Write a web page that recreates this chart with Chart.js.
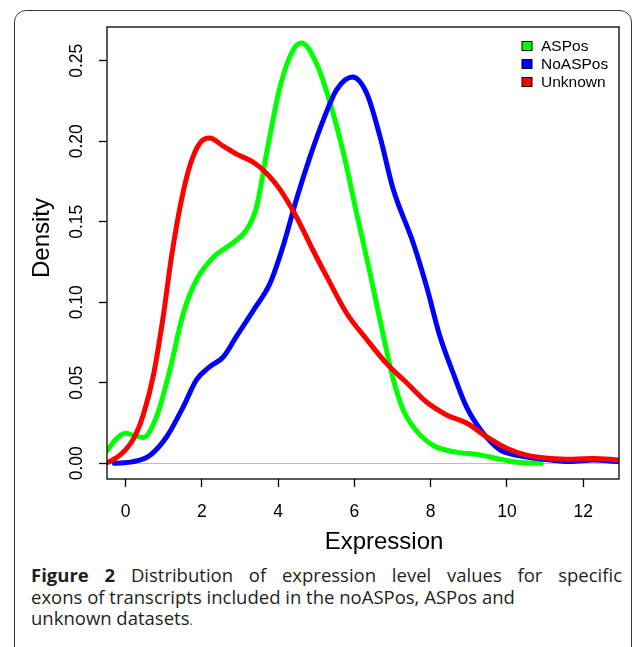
<!DOCTYPE html>
<html>
<head>
<meta charset="utf-8">
<script src="https://cdn.jsdelivr.net/npm/chart.js@4.4.1/dist/chart.umd.min.js"></script>
<style>
    html, body { margin: 0; padding: 0; background: #fff; }
    body { width: 633px; height: 647px; position: relative; overflow: hidden; }
    #frame {
        position: absolute; left: 14px; top: 10px; width: 616px; height: 700px;
        border: 1.5px solid #3a3a3a; border-radius: 12px;
    }
    #plot { position: absolute; left: 0; top: 0; }
    #caption {
        position: absolute; left: 31px; top: 564px; width: 591px;
        font-family: "Open Sans", sans-serif; font-size: 18.5px; line-height: 21.5px;
        color: #231f20;
    }
    #caption .l1 { text-align: justify; text-align-last: justify; }
    #caption .dot { font-size: 12px; }
</style>
</head>
<body>
<div id="frame"></div>
<canvas id="plot" width="633" height="560"></canvas>
<div id="caption">
    <div class="l1"><b>Figure 2</b> Distribution of expression level values for specific</div>
    <div>exons of transcripts included in the noASPos, ASPos and</div>
    <div>unknown datasets<span class="dot">.</span></div>
</div>
<script>
const xTicks = [0, 2, 4, 6, 8, 10, 12];
const yTicks = [0, 0.05, 0.10, 0.15, 0.20, 0.25];

const asposX = [-0.48, -0.25, 0.0, 0.25, 0.46, 0.81, 1.16, 1.51, 1.86, 2.30, 2.82, 3.17, 3.43, 3.70, 4.05, 4.40, 4.62, 5.01, 5.36, 5.71, 6.06, 6.41, 6.76, 7.02, 7.28, 7.63, 8.07, 8.59, 9.29, 9.82, 10.34, 10.9];
const asposY = [0.008, 0.015, 0.0186, 0.017, 0.016, 0.029, 0.058, 0.093, 0.114, 0.128, 0.137, 0.145, 0.159, 0.193, 0.234, 0.257, 0.261, 0.248, 0.224, 0.193, 0.155, 0.118, 0.079, 0.052, 0.033, 0.020, 0.011, 0.0072, 0.0052, 0.0025, 0.0004, 0.0];

const noasposX = [-0.3, 0.2, 0.64, 1.08, 1.51, 1.86, 2.21, 2.56, 2.91, 3.35, 3.79, 4.13, 4.48, 4.83, 5.18, 5.53, 5.95, 6.32, 6.67, 7.02, 7.54, 7.89, 8.24, 8.59, 8.94, 9.38, 9.82, 10.34, 10.95, 11.65, 12.26, 12.92];
const noasposY = [0.0, 0.001, 0.005, 0.0166, 0.035, 0.052, 0.060, 0.066, 0.079, 0.095, 0.112, 0.135, 0.164, 0.190, 0.213, 0.232, 0.240, 0.230, 0.203, 0.170, 0.137, 0.110, 0.079, 0.056, 0.035, 0.0186, 0.0083, 0.0046, 0.0025, 0.001, 0.002, 0.001];

const unknownX = [-0.48, -0.15, 0.2, 0.46, 0.73, 0.99, 1.2, 1.45, 1.7, 1.95, 2.2, 2.56, 2.91, 3.35, 3.70, 4.05, 4.48, 4.92, 5.36, 5.80, 6.32, 6.84, 7.37, 7.89, 8.42, 8.94, 9.46, 9.99, 10.52, 11.13, 11.74, 12.26, 12.92];
const unknownY = [0.0004, 0.005, 0.015, 0.030, 0.055, 0.092, 0.128, 0.162, 0.186, 0.199, 0.202, 0.197, 0.192, 0.187, 0.180, 0.170, 0.153, 0.132, 0.112, 0.093, 0.077, 0.062, 0.050, 0.038, 0.030, 0.025, 0.0166, 0.0093, 0.005, 0.003, 0.0025, 0.003, 0.002];

const axisFont = "Liberation Sans, Arial, sans-serif";

function points(xs, ys) {
    return xs.map((x, i) => ({ x: x, y: ys[i] }));
}

// box round the plot region, like R's bty="o"
const plotBox = {
    id: "plotBox",
    afterDatasetsDraw(chart) {
        const a = chart.chartArea;
        const ctx = chart.ctx;
        ctx.save();
        ctx.strokeStyle = "#000";
        ctx.lineWidth = 1.3;
        ctx.strokeRect(a.left, a.top, a.right - a.left, a.bottom - a.top);
        ctx.restore();
    }
};

const axisTitles = {
    id: "axisTitles",
    afterDraw(chart) {
        const ctx = chart.ctx;
        ctx.save();
        ctx.fillStyle = "#000";
        ctx.font = "24px " + axisFont;
        ctx.textAlign = "center";
        ctx.textBaseline = "alphabetic";
        ctx.fillText("Expression", 384, 549);
        ctx.translate(49, 238);
        ctx.rotate(-Math.PI / 2);
        ctx.fillText("Density", 0, 0);
        ctx.restore();
    }
};

const boxLegend = {
    id: "boxLegend",
    afterDraw(chart) {
        const ctx = chart.ctx;
        const rows = [46, 64, 82];
        ctx.save();
        ctx.font = "15.5px " + axisFont;
        ctx.textBaseline = "middle";
        ctx.textAlign = "left";
        chart.data.datasets.forEach((ds, i) => {
            const y = rows[i];
            ctx.fillStyle = ds.borderColor;
            ctx.fillRect(522, y - 4.5, 10, 9);
            ctx.strokeStyle = "#000";
            ctx.lineWidth = 1;
            ctx.strokeRect(522, y - 4.5, 10, 9);
            ctx.fillStyle = "#000";
            ctx.fillText(ds.label, 541, y + 0.5);
        });
        ctx.restore();
    }
};

new Chart(document.getElementById("plot"), {
    type: "line",
    data: {
        datasets: [
            { label: "ASPos", data: points(asposX, asposY), borderColor: "#00ff00", order: 3 },
            { label: "NoASPos", data: points(noasposX, noasposY), borderColor: "#0000ff", order: 2 },
            { label: "Unknown", data: points(unknownX, unknownY), borderColor: "#ff0000", order: 1 }
        ]
    },
    options: {
        responsive: false,
        animation: false,
        layout: { padding: { left: 0, top: 27, right: 14, bottom: 0 } },
        elements: {
            point: { radius: 0 },
            line: { borderWidth: 5, cubicInterpolationMode: "monotone", fill: false, borderCapStyle: "round" }
        },
        plugins: {
            legend: { display: false },
            tooltip: { enabled: false }
        },
        scales: {
            x: {
                type: "linear",
                min: -0.49,
                max: 12.94,
                afterBuildTicks: s => { s.ticks = xTicks.map(v => ({ value: v })); },
                afterFit: s => { s.height = 81; },
                border: { display: false },
                grid: { drawOnChartArea: false, drawTicks: true, tickLength: 8, tickColor: "#000", tickWidth: 1.3 },
                ticks: {
                    color: "#000",
                    padding: 15,
                    maxRotation: 0,
                    font: { family: axisFont, size: 17.5 },
                    callback: v => String(v)
                }
            },
            y: {
                type: "linear",
                min: -0.0098,
                max: 0.271,
                afterBuildTicks: s => { s.ticks = yTicks.map(v => ({ value: v })); },
                afterFit: s => { s.width = 107; },
                border: { display: false },
                grid: {
                    drawOnChartArea: true,
                    color: c => (c.tick && c.tick.value === 0 ? "#bdbdbd" : "rgba(0,0,0,0)"),
                    lineWidth: 1,
                    drawTicks: true,
                    tickLength: 8,
                    tickColor: "#000",
                    tickWidth: 1.3
                },
                ticks: {
                    color: "#000",
                    padding: 5,
                    minRotation: 90,
                    maxRotation: 90,
                    crossAlign: "center",
                    font: { family: axisFont, size: 17.5 },
                    callback: v => v.toFixed(2)
                }
            }
        }
    },
    plugins: [plotBox, axisTitles, boxLegend]
});
</script>
</body>
</html>
